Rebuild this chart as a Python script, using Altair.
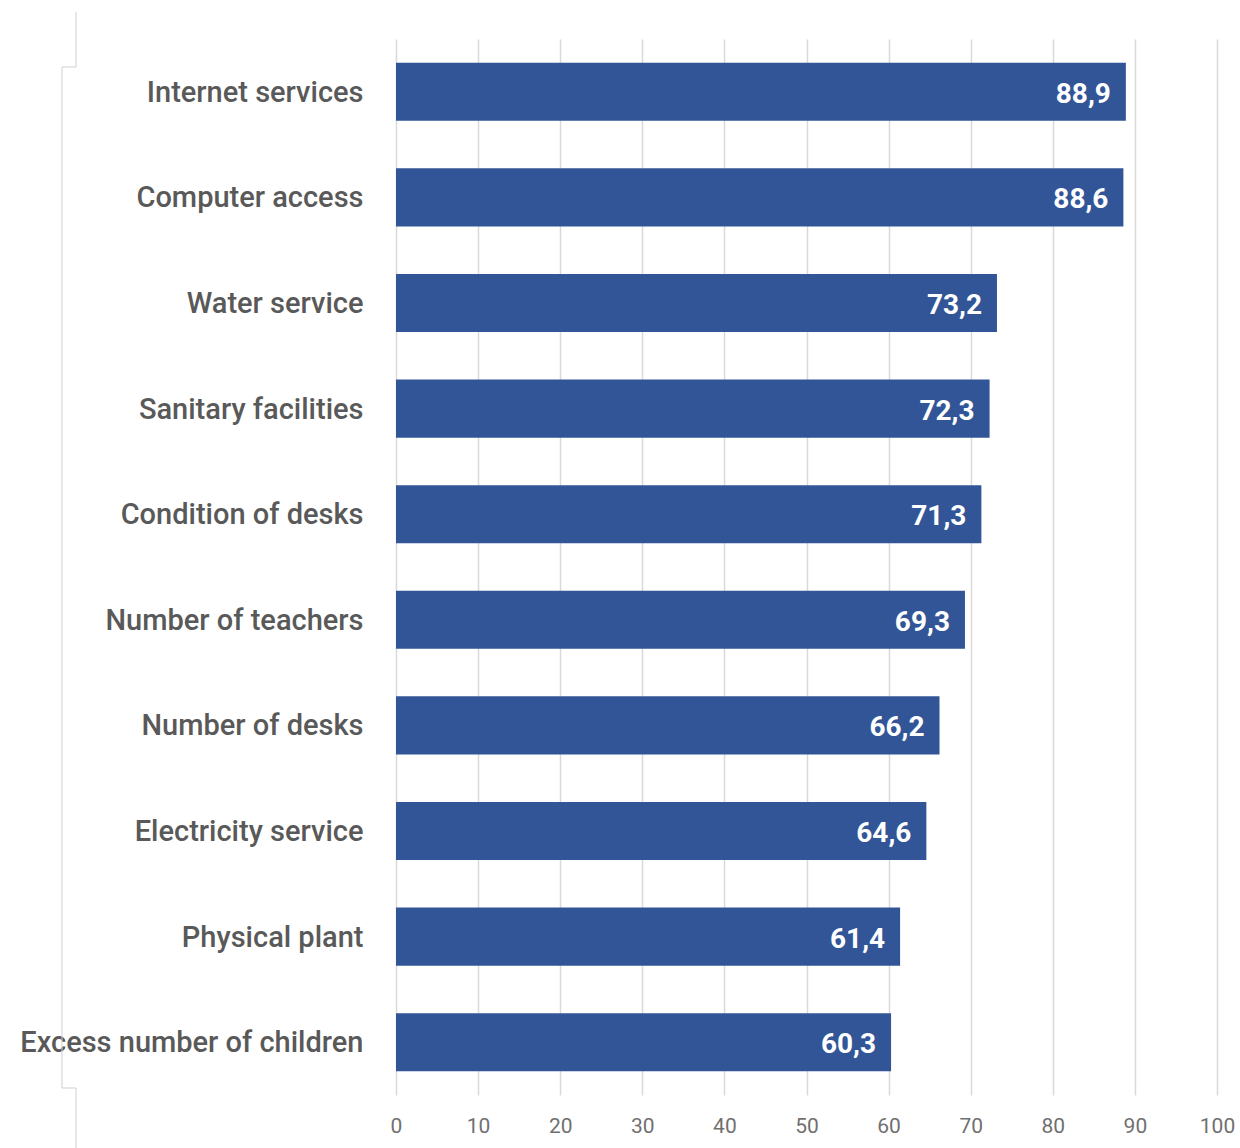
import altair as alt
import pandas as pd

categories = [
    "Internet services", "Computer access", "Water service", "Sanitary facilities",
    "Condition of desks", "Number of teachers", "Number of desks",
    "Electricity service", "Physical plant", "Excess number of children",
]
values = [88.9, 88.6, 73.2, 72.3, 71.3, 69.3, 66.2, 64.6, 61.4, 60.3]
x_ticks = [0, 10, 20, 30, 40, 50, 60, 70, 80, 90, 100]

df = pd.DataFrame({
    "category": categories,
    "value": values,
    "label": [f"{v:.1f}".replace(".", ",") for v in values],
})
one = pd.DataFrame({"a": [0]})

W, H = 821, 1056

x = alt.X("value:Q", scale=alt.Scale(domain=[0, 100], nice=False),
          axis=alt.Axis(values=x_ticks, title=None, domain=False, ticks=False,
                        grid=True, gridColor="#d9d9d9", gridWidth=1.5,
                        labelFont="Liberation Sans Narrow, Roboto", labelFontSize=21,
                        labelColor="#707070", labelPadding=20, labelFlush=False))
y = alt.Y("category:N", sort=categories,
          scale=alt.Scale(paddingInner=0.45, paddingOuter=0.225),
          axis=alt.Axis(title=None, domain=False, ticks=False, grid=False,
                        labelFont="Roboto", labelFontWeight=500, labelFontSize=29,
                        labelColor="#595959", labelPadding=33, labelLimit=400,
                        labelOffset=1))

bars = alt.Chart(df).mark_bar(color="#325597").encode(x=x, y=y)
text = alt.Chart(df).mark_text(align="right", baseline="middle", dx=-15, dy=3,
                               font="Roboto", fontWeight="bold", fontSize=28,
                               color="white").encode(
    x="value:Q", y=alt.Y("category:N", sort=categories), text="label:N")

line_color = "#cfcfcf"
deco = [
    alt.Chart(one).mark_rule(color=line_color, strokeWidth=1).encode(
        x=alt.value(76 - 396), y=alt.value(12 - 39), y2=alt.value(67 - 39)),
    alt.Chart(one).mark_rule(color=line_color, strokeWidth=1).encode(
        x=alt.value(62 - 396), x2=alt.value(76 - 396), y=alt.value(67 - 39)),
    alt.Chart(one).mark_rule(color=line_color, strokeWidth=1).encode(
        x=alt.value(62 - 396), y=alt.value(67 - 39), y2=alt.value(1088 - 39)),
    alt.Chart(one).mark_rule(color=line_color, strokeWidth=1).encode(
        x=alt.value(62 - 396), x2=alt.value(76 - 396), y=alt.value(1088 - 39)),
    alt.Chart(one).mark_rule(color=line_color, strokeWidth=1).encode(
        x=alt.value(76 - 396), y=alt.value(1088 - 39), y2=alt.value(1148 - 39)),
]

chart = alt.layer(*deco, bars, text).properties(
    width=W, height=H,
    autosize=alt.AutoSizeParams(type="none"),
    padding={"left": 396, "top": 39, "right": 23, "bottom": 53},
    background="white",
).configure_view(stroke=None)

chart.save("out.html", embed_options={"renderer": "svg", "actions": False})
